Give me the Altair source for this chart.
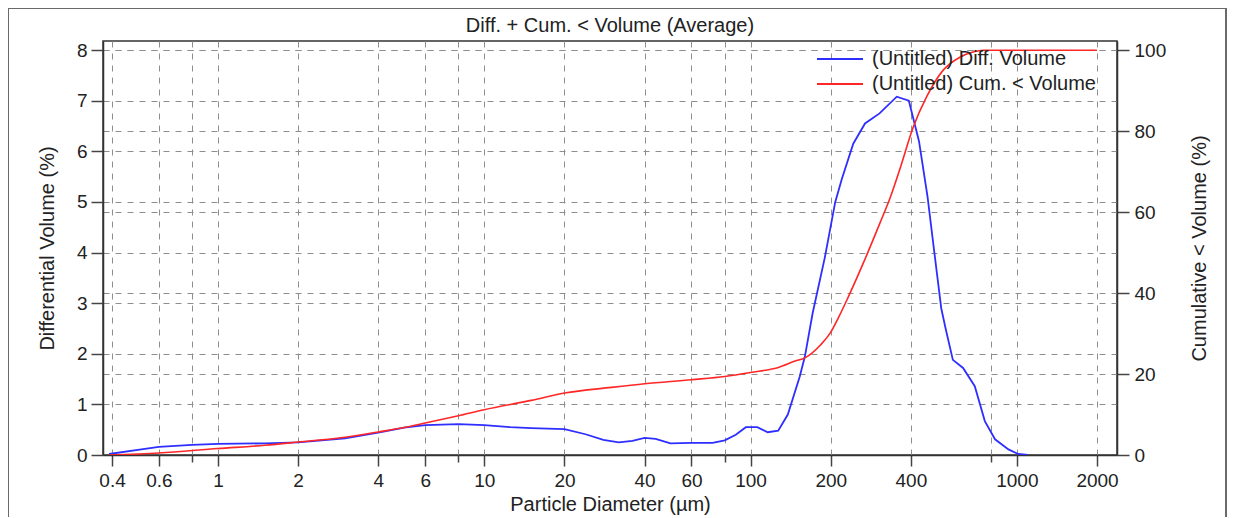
import altair as alt
import pandas as pd

# ---------------- data ----------------
diff_name = "(Untitled) Diff. Volume"
cum_name = "(Untitled) Cum. < Volume"

diff_size = [0.39, 0.5, 0.6, 0.8, 1, 1.5, 2, 3, 4, 5, 6, 8, 10, 12.5, 15, 20, 24, 28, 32, 36,
             40, 44, 50, 60, 72, 80, 88, 96, 106, 116, 127, 138, 153, 160, 171, 190, 208, 220,
             243, 269, 305, 354, 393, 429, 462, 490, 520, 540, 575, 628, 695, 758, 828, 930,
             1010, 1100]
diff_vol = [0.02, 0.10, 0.16, 0.20, 0.22, 0.23, 0.25, 0.33, 0.44, 0.54, 0.59, 0.61, 0.59, 0.55,
            0.53, 0.51, 0.41, 0.30, 0.25, 0.28, 0.34, 0.32, 0.23, 0.24, 0.24, 0.29, 0.40, 0.55,
            0.55, 0.45, 0.48, 0.80, 1.55, 1.95, 2.8, 3.9, 5.0, 5.45, 6.15, 6.55, 6.75, 7.08, 7.0,
            6.2, 5.1, 4.0, 2.9, 2.5, 1.88, 1.72, 1.36, 0.67, 0.31, 0.11, 0.02, 0.0]

cum_size = [0.39, 0.6, 1, 1.5, 2, 3, 4, 5, 6, 8, 10, 15, 20, 30, 40, 60, 80, 100, 128, 147,
            160, 183, 199, 214, 230, 265, 306, 334, 365, 408, 458, 529, 611, 684, 750, 1000, 2000]
cum_vol = [0, 0.5, 1.6, 2.4, 3.2, 4.4, 5.7, 6.8, 7.9, 9.7, 11.2, 13.5, 15.3, 16.7, 17.6, 18.6,
           19.4, 20.4, 21.7, 23.2, 24.0, 27.2, 30.1, 34.0, 38.3, 47.4, 57.3, 63.5, 71.0, 81.0,
           88.5, 95.1, 98.3, 99.6, 100, 100, 100]

x_labeled = [0.4, 0.6, 1, 2, 4, 6, 10, 20, 40, 60, 100, 200, 400, 1000, 2000]
x_minor = [0.8, 8, 80, 800]
left_ticks = [0, 1, 2, 3, 4, 5, 6, 7, 8]
right_ticks = [0, 20, 40, 60, 80, 100]

diff_df = pd.DataFrame({"size": diff_size, "vol": diff_vol, "series": diff_name})
cum_df = pd.DataFrame({"size": cum_size, "cum": cum_vol, "series": cum_name})

FONT = "Liberation Sans"
TXT = "#222222"

x_scale = alt.Scale(type="log", domain=[0.37, 2377], nice=False)
color_scale = alt.Scale(domain=[diff_name, cum_name], range=["#2e2eff", "#ff2626"])

legend = alt.Legend(
    title=None, orient="none", legendX=726, legendY=7,
    symbolType="M-2.3,0H2.3", symbolSize=400, symbolStrokeWidth=2,
    labelFontSize=20, labelFont=FONT, labelColor=TXT, labelOffset=21, labelLimit=600,
    rowPadding=4, padding=0,
)

blue = alt.Chart(diff_df).mark_line(strokeWidth=1.8, clip=True).encode(
    x=alt.X("size:Q", scale=x_scale,
            axis=alt.Axis(orient="bottom", values=x_labeled, format="~g",
                          title="Particle Diameter (µm)", grid=True, tickSize=11,
                          labelPadding=5, titlePadding=4, labelFlush=False,
                          labelOverlap=False)),
    y=alt.Y("vol:Q", scale=alt.Scale(domain=[0, 8.18], nice=False),
            axis=alt.Axis(orient="left", values=left_ticks, title="Differential Volume (%)",
                          grid=True, tickSize=12, labelPadding=4, titlePadding=19)),
    color=alt.Color("series:N", scale=color_scale, legend=legend),
)

red = alt.Chart(cum_df).mark_line(strokeWidth=1.6, clip=True, interpolate="monotone").encode(
    x=alt.X("size:Q", scale=x_scale,
            axis=alt.Axis(orient="bottom", values=x_minor, labels=False, title="",
                          grid=True, tickSize=7, domain=False)),
    y=alt.Y("cum:Q", scale=alt.Scale(domain=[0, 102.3], nice=False),
            axis=alt.Axis(orient="right", values=right_ticks, title="Cumulative < Volume (%)",
                          grid=True, tickSize=12, labelPadding=5, titlePadding=24,
                          titleAngle=270, titleBaseline="top")),
    color=alt.Color("series:N", scale=color_scale, legend=legend),
)

frame = alt.Chart(pd.DataFrame({"k": [0]})).mark_rect(
    fillOpacity=0, stroke="#6a6a6a", strokeWidth=2
).encode(x=alt.value(-95), x2=alt.value(1123), y=alt.value(-33), y2=alt.value(480))

chart = (
    alt.layer(blue, red, frame)
    .resolve_scale(y="independent")
    .resolve_axis(x="independent")
    .properties(
        width=1014, height=414,
        autosize=alt.AutoSizeParams(type="none"),
        padding={"left": 95, "top": 33, "right": 110, "bottom": 62},
        title=alt.TitleParams("Diff. + Cum. < Volume (Average)", anchor="middle",
                              frame="group", baseline="alphabetic", offset=-45),
    )
    .configure_view(stroke="#333333", strokeWidth=1.5)
    .configure_axis(
        labelFont=FONT, titleFont=FONT, labelFontSize=19, titleFontSize=20,
        labelColor=TXT, titleColor=TXT, titleFontWeight="normal",
        domainColor="#333333", domainWidth=1.5, tickColor="#444444", tickWidth=1.5,
        gridColor="#8e8e8e", gridDash=[6, 6], gridWidth=1,
    )
    .configure_title(font=FONT, fontSize=20, fontWeight="normal", color=TXT)
)

chart.save("out.html", embed_options={"renderer": "svg", "actions": False})
